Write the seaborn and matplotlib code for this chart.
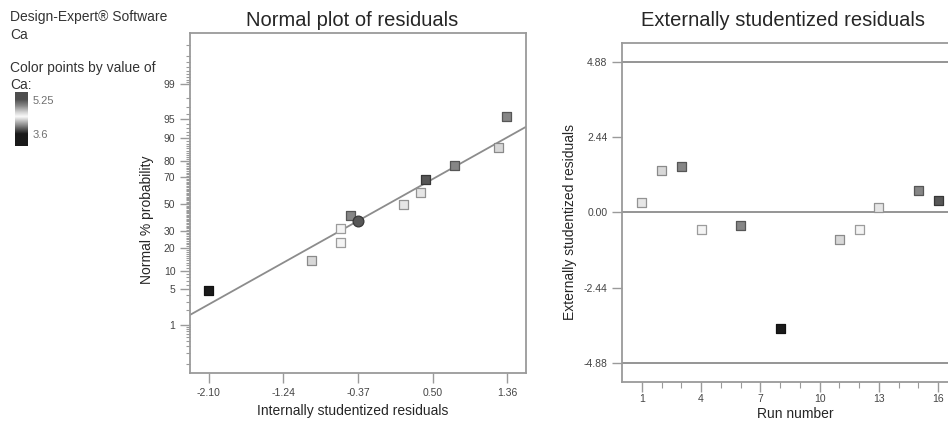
from statistics import NormalDist
import numpy as np
import pandas as pd
import seaborn as sns
import matplotlib.pyplot as plt
from matplotlib.colors import LinearSegmentedColormap, Normalize

sns.set_style('ticks')
plt.rcParams['font.family'] = ['Liberation Sans', 'DejaVu Sans']

# runs shown in the residual plots
runs = [1, 2, 3, 4, 6, 8, 11, 12, 13, 15, 16]
ca = [4.35, 4.30, 4.95, 4.40, 4.95, 3.60, 4.30, 4.40, 4.35, 4.95, 5.20]
ext_resid = [0.33, 1.36, 1.49, -0.54, -0.42, -3.76, -0.89, -0.54, 0.15, 0.71, 0.39]
int_resid = [0.361, 1.259, 1.356, -0.571, -0.455, -2.10, -0.908, -0.571, 0.164, 0.745, 0.416]
normal_prob = [59.4, 86.6, 95.6, 23.1, 41.6, 4.7, 13.9, 32.3, 50.2, 77.5, 68.6]

# highlighted point (circle) and reference line on the normal plot
hl_resid = [-0.374]
hl_prob = [37.3]
hl_ca = [5.20]
fit_resid = [-2.32, 1.58]
fit_prob = [1.62, 93.3]

x_ticks_left = [-2.10, -1.24, -0.37, 0.50, 1.36]
prob_ticks = [1, 5, 10, 20, 30, 50, 70, 80, 90, 95, 99]
y_ticks_right = [-4.88, -2.44, 0.00, 2.44, 4.88]
limit_lines = [-4.88, 0.00, 4.88]
run_ticks = [1, 4, 7, 10, 13, 16]
ca_range = [3.6, 5.25]

df = pd.DataFrame({'run': runs, 'Ca': ca, 'ext': ext_resid,
                   'int': int_resid, 'prob': normal_prob})
df_hl = pd.DataFrame({'int': hl_resid, 'prob': hl_prob, 'Ca': hl_ca})

cmap = LinearSegmentedColormap.from_list('ca_gray', [
    (0.0, '#1a1a1a'), (0.25, '#8a8a8a'), (0.5, '#fafafa'),
    (0.62, '#d6d6d6'), (0.82, '#868686'), (1.0, '#4e4e4e')])
norm = Normalize(*ca_range)

_nd = NormalDist()
def prob_fwd(p):
    p = np.clip(np.asarray(p, float), 1e-9, 100 - 1e-9)
    return np.vectorize(lambda v: _nd.inv_cdf(v / 100), otypes=[float])(p)
def prob_inv(z):
    return np.vectorize(lambda v: _nd.cdf(v) * 100, otypes=[float])(np.asarray(z, float))

def edge_for(values):
    cols = cmap(norm(np.asarray(values)))
    cols[:, :3] *= 0.64
    return cols

spine_col = '#9a9a9a'
tick_kw = dict(colors='#9a9a9a', labelcolor='#444444', labelsize=7.5, width=1.0)

fig = plt.figure(figsize=(9.48, 4.22), dpi=100)

# ---- normal plot
ax1 = fig.add_axes([0.2004, 0.1161, 0.3544, 0.8057])
sns.lineplot(x=fit_resid, y=fit_prob, ax=ax1, color='#8c8c8c', lw=1.3)
sns.scatterplot(data=df, x='int', y='prob', hue='Ca', palette=cmap, hue_norm=norm,
                marker='s', s=42, linewidth=0.9, legend=False, ax=ax1, zorder=3)
ax1.collections[-1].set_edgecolor(edge_for(df['Ca']))
sns.scatterplot(data=df_hl, x='int', y='prob', hue='Ca', palette=cmap, hue_norm=norm,
                marker='o', s=60, linewidth=0.9, legend=False, ax=ax1, zorder=4)
ax1.collections[-1].set_edgecolor(edge_for(df_hl['Ca']))
ax1.set_yscale('function', functions=(prob_fwd, prob_inv))
ax1.set_xlim(-2.32, 1.58)
ax1.set_ylim(0.0551, 99.954)
ax1.set_xticks(x_ticks_left, [f'{v:.2f}' for v in x_ticks_left])
ax1.set_yticks(prob_ticks, [str(v) for v in prob_ticks])
minor = [v / 10 for v in range(1, 10)] + list(range(2, 99)) + [99 + v / 10 for v in range(1, 10)]
ax1.set_yticks([m for m in minor if m not in prob_ticks], minor=True)
ax1.tick_params(axis='both', which='major', length=7, **tick_kw)
ax1.tick_params(axis='y', which='minor', length=3, colors='#9a9a9a', width=0.8)
ax1.set_title('Normal plot of residuals', fontsize=14.5, x=0.482, pad=5)
ax1.set_xlabel('Internally studentized residuals', fontsize=10)
ax1.set_ylabel('Normal % probability', fontsize=10)
ax1.xaxis.set_label_coords(0.485, -0.091)
ax1.yaxis.set_label_coords(-0.107, 0.45)

# ---- externally studentized residuals vs run
ax2 = fig.add_axes([0.6561, 0.0948, 0.3544, 0.8033])
for yv in limit_lines:
    ax2.axhline(yv, color='#8c8c8c', lw=1.3, zorder=1)
sns.scatterplot(data=df, x='run', y='ext', hue='Ca', palette=cmap, hue_norm=norm,
                marker='s', s=42, linewidth=0.9, legend=False, ax=ax2, zorder=3)
ax2.collections[-1].set_edgecolor(edge_for(df['Ca']))
ax2.set_xlim(0, 17)
ax2.set_ylim(-5.49, 5.48)
ax2.set_xticks(run_ticks, [str(v) for v in run_ticks])
ax2.set_xticks([v for v in range(1, 17) if v not in run_ticks], minor=True)
ax2.set_yticks(y_ticks_right, [f'{v:.2f}' for v in y_ticks_right])
ax2.tick_params(axis='both', which='major', length=7, **tick_kw)
ax2.tick_params(axis='x', which='major', pad=2)
ax2.tick_params(axis='x', which='minor', length=4, colors='#9a9a9a', width=0.8)
ax2.set_title('Externally studentized residuals', fontsize=14.5, x=0.479, pad=12)
ax2.set_xlabel('Run number', fontsize=10)
ax2.set_ylabel('Externally studentized residuals', fontsize=10)
ax2.xaxis.set_label_coords(0.515, -0.074)
ax2.yaxis.set_label_coords(-0.134, 0.472)

for ax in (ax1, ax2):
    for sp in ax.spines.values():
        sp.set_visible(True)
        sp.set_color(spine_col)
        sp.set_linewidth(1.3)

# ---- colour key
cax = fig.add_axes([0.0158, 0.654, 0.0137, 0.128])
grad = np.linspace(3.02, 5.64, 200).reshape(-1, 1)
cax.imshow(grad, cmap=cmap, norm=norm, aspect='auto', origin='lower',
           extent=[0, 1, 3.02, 5.64])
cax.set_xticks([])
cax.yaxis.tick_right()
cax.set_yticks(ca_range, ['3.6', '5.25'])
cax.tick_params(axis='y', length=0, pad=3, labelsize=8, labelcolor='#707070')
for sp in cax.spines.values():
    sp.set_visible(False)

txt = dict(fontsize=10, color='#333333', va='top', ha='left')
fig.text(10 / 948, 1 - 10 / 422, 'Design-Expert® Software', **txt)
fig.text(10 / 948, 1 - 28 / 422, 'Ca', **txt)
fig.text(10 / 948, 1 - 61 / 422, 'Color points by value of', **txt)
fig.text(10 / 948, 1 - 78 / 422, 'Ca:', **txt)

fig.savefig('out.png', dpi=100)
